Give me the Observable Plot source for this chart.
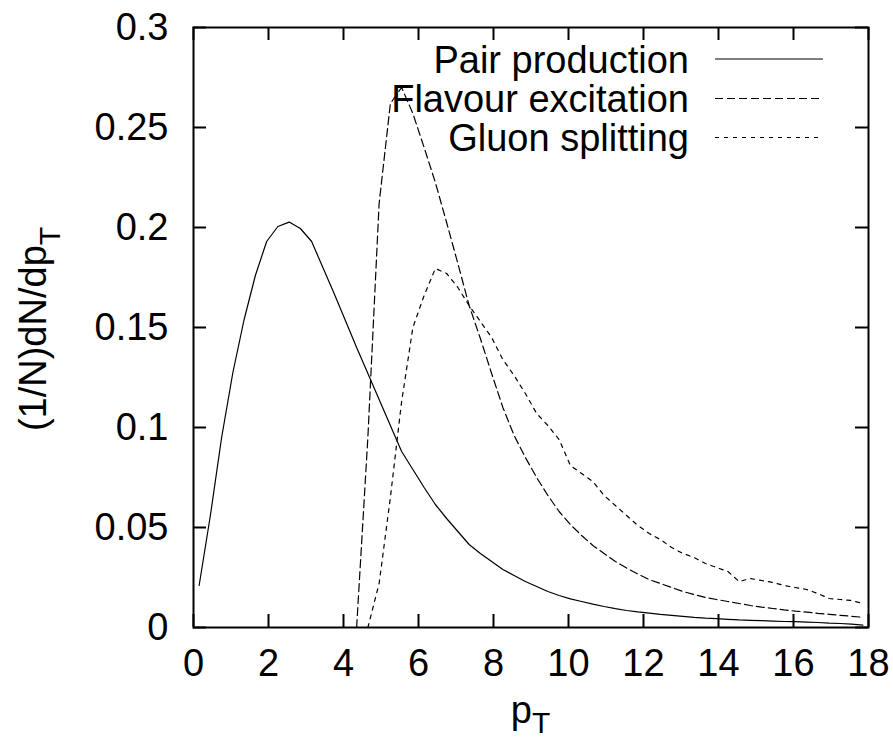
<!DOCTYPE html>
<html>
<head>
<meta charset="utf-8">
<script src="https://cdn.jsdelivr.net/npm/d3@7"></script>
<script src="https://cdn.jsdelivr.net/npm/@observablehq/plot@0.6"></script>
<style>
  html, body { margin: 0; padding: 0; background: #fff; }
  #chart { width: 893px; height: 745px; }
</style>
</head>
<body>
<div id="chart"></div>
<script>
// bin centres (pT)
const pT = [0.15,0.45,0.75,1.05,1.35,1.65,1.95,2.25,2.55,2.85,
  3.15,3.45,3.75,4.05,4.35,4.65,4.95,5.25,5.55,5.85,
  6.15,6.45,6.75,7.05,7.35,7.65,7.95,8.25,8.55,8.85,
  9.15,9.45,9.75,10.05,10.35,10.65,10.95,11.25,11.55,11.85,
  12.15,12.45,12.75,13.05,13.35,13.65,13.95,14.25,14.55,14.85,
  15.15,15.45,15.75,16.05,16.35,16.65,16.95,17.25,17.55,17.85];

const pairProduction = [0.021,0.056,0.095,0.1275,0.154,0.176,0.193,0.2005,0.2027,0.1995,
  0.193,0.180,0.167,0.1535,0.140,0.127,0.114,0.101,0.088,0.079,
  0.070,0.0615,0.0545,0.048,0.0415,0.037,0.033,0.029,0.026,0.023,
  0.0205,0.018,0.016,0.0143,0.013,0.0117,0.0105,0.0094,0.0085,0.0078,
  0.0072,0.0066,0.0061,0.0056,0.0051,0.0047,0.0044,0.0041,0.0038,0.0036,
  0.0034,0.0032,0.0030,0.0029,0.0027,0.0025,0.0022,0.0020,0.0017,0.0012];

const flavourExcitation = [null,null,null,null,null,null,null,null,null,null,
  null,null,null,null,0.0,0.095,0.212,0.262,0.270,0.257,
  0.240,0.2225,0.2025,0.182,0.161,0.1445,0.127,0.110,0.096,0.085,
  0.075,0.066,0.058,0.0515,0.046,0.041,0.037,0.033,0.0297,0.0267,
  0.024,0.022,0.020,0.018,0.0165,0.015,0.014,0.013,0.012,0.011,
  0.0102,0.0095,0.0088,0.0082,0.0077,0.0071,0.0066,0.0061,0.0056,0.0051];

const gluonSplitting = [null,null,null,null,null,null,null,null,null,null,
  null,null,null,null,null,0.0,0.022,0.065,0.113,0.150,
  0.166,0.1795,0.177,0.170,0.161,0.153,0.145,0.134,0.126,0.117,
  0.107,0.101,0.094,0.081,0.077,0.073,0.066,0.061,0.056,0.051,
  0.047,0.044,0.040,0.037,0.035,0.032,0.030,0.028,0.023,0.0245,
  0.0235,0.0225,0.021,0.020,0.019,0.017,0.0145,0.014,0.0135,0.012];

const seriesNames = ["Pair production", "Flavour excitation", "Gluon splitting"];
const seriesDash = [null, "8,4", "4,5"];

const xTicks = [0,2,4,6,8,10,12,14,16,18];
const yTicks = [0,0.05,0.1,0.15,0.2,0.25,0.3];

const toRows = (vals) => pT.map((x, i) => ({x, y: vals[i]})).filter(d => d.y !== null);
const seriesRows = [toRows(pairProduction), toRows(flavourExcitation), toRows(gluonSplitting)];

const W = 893, H = 745, mL = 193, mR = 25, mT = 27, mB = 118;
const innerW = W - mL - mR, innerH = H - mT - mB;
const tickLen = 13;
const FONT = "'Liberation Sans', Arial, Helvetica, sans-serif";

const chart = Plot.plot({
  width: W, height: H,
  marginLeft: mL, marginRight: mR, marginTop: mT, marginBottom: mB,
  style: {fontFamily: FONT, fontSize: "38px", color: "black", background: "white", overflow: "visible"},
  x: {domain: [0, 18]},
  y: {domain: [0, 0.3]},
  marks: [
    Plot.axisX(xTicks, {tickSize: 0, tickPadding: 22, tickFormat: d => String(d), label: null, fontSize: 38}),
    Plot.axisY(yTicks, {tickSize: 0, tickPadding: 25, tickFormat: d => String(+d.toFixed(2)), label: null, fontSize: 38}),
    // inward ticks, mirrored on all sides
    Plot.ruleX(xTicks, {x: d => d, insetTop: innerH - tickLen, stroke: "black", strokeWidth: 2}),
    Plot.ruleX(xTicks, {x: d => d, insetBottom: innerH - tickLen, stroke: "black", strokeWidth: 2}),
    Plot.ruleY(yTicks, {y: d => d, insetRight: innerW - tickLen, stroke: "black", strokeWidth: 2}),
    Plot.ruleY(yTicks, {y: d => d, insetLeft: innerW - tickLen, stroke: "black", strokeWidth: 2}),
    ...seriesRows.map((rows, i) => Plot.line(rows, {
      x: "x", y: "y", stroke: "black", strokeWidth: 1.2,
      strokeDasharray: seriesDash[i] ?? undefined, strokeLinejoin: "miter"
    })),
    Plot.frame({stroke: "black", strokeWidth: 2})
  ]
});

document.getElementById("chart").appendChild(chart);

const svg = d3.select(chart);

// x-axis label p_T
const xl = svg.append("text")
  .attr("x", mL + innerW / 2).attr("y", 723)
  .attr("text-anchor", "middle")
  .attr("font-family", FONT).attr("font-size", 38).attr("fill", "black");
xl.append("tspan").text("p");
xl.append("tspan").attr("font-size", 30).attr("dy", 10).text("T");

// y-axis label (1/N)dN/dp_T
const yl = svg.append("text")
  .attr("transform", `translate(46,${mT + innerH / 2 + 2}) rotate(-90)`)
  .attr("text-anchor", "middle")
  .attr("font-family", FONT).attr("font-size", 38).attr("fill", "black");
yl.append("tspan").text("(1/N)dN/dp");
yl.append("tspan").attr("font-size", 30).attr("dy", 14).text("T");

// legend (key), top right, inside the frame
const legendRowY = [59, 98.5, 137.5];
const leg = svg.append("g");
seriesNames.forEach((name, i) => {
  leg.append("text")
    .attr("x", 689).attr("y", legendRowY[i] + 13.5)
    .attr("text-anchor", "end")
    .attr("font-family", FONT).attr("font-size", 38).attr("fill", "black")
    .text(name);
  const ln = leg.append("line")
    .attr("x1", 715).attr("x2", 823)
    .attr("y1", legendRowY[i]).attr("y2", legendRowY[i])
    .attr("stroke", "black").attr("stroke-width", 1.2);
  if (seriesDash[i]) ln.attr("stroke-dasharray", seriesDash[i]);
});
</script>
</body>
</html>
